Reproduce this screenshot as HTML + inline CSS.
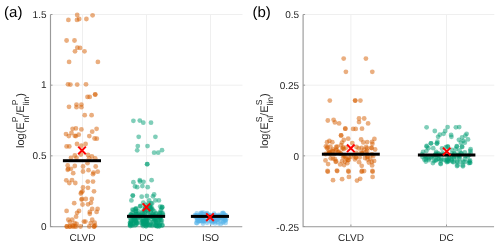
<!DOCTYPE html>
<html><head><meta charset="utf-8"><style>
html,body{margin:0;padding:0;background:#fff;width:500px;height:246px;overflow:hidden}
svg{display:block;font-family:"Liberation Sans",sans-serif;will-change:transform;text-rendering:geometricPrecision}
</style></head><body>
<svg width="500" height="246" viewBox="0 0 500 246" font-family="Liberation Sans, sans-serif">
<rect width="500" height="246" fill="#fff"/>
<line x1="82.50" y1="14.5" x2="82.50" y2="226.5" stroke="#efefef" stroke-width="1"/>
<line x1="146.50" y1="14.5" x2="146.50" y2="226.5" stroke="#efefef" stroke-width="1"/>
<line x1="210.50" y1="14.5" x2="210.50" y2="226.5" stroke="#efefef" stroke-width="1"/>
<line x1="50.5" y1="226.50" x2="242.5" y2="226.50" stroke="#efefef" stroke-width="1"/>
<line x1="50.5" y1="155.83" x2="242.5" y2="155.83" stroke="#efefef" stroke-width="1"/>
<line x1="50.5" y1="85.17" x2="242.5" y2="85.17" stroke="#efefef" stroke-width="1"/>
<line x1="50.5" y1="14.50" x2="242.5" y2="14.50" stroke="#efefef" stroke-width="1"/>
<line x1="350.90" y1="14.5" x2="350.90" y2="226.5" stroke="#efefef" stroke-width="1"/>
<line x1="446.50" y1="14.5" x2="446.50" y2="226.5" stroke="#efefef" stroke-width="1"/>
<line x1="303.1" y1="226.50" x2="494.3" y2="226.50" stroke="#efefef" stroke-width="1"/>
<line x1="303.1" y1="155.83" x2="494.3" y2="155.83" stroke="#efefef" stroke-width="1"/>
<line x1="303.1" y1="85.17" x2="494.3" y2="85.17" stroke="#efefef" stroke-width="1"/>
<line x1="303.1" y1="14.50" x2="494.3" y2="14.50" stroke="#efefef" stroke-width="1"/>
<path d="M50.5 14.5V226.7H242.2" fill="none" stroke="#9a9a9a" stroke-width="1.15"/>
<line x1="50.5" y1="226.50" x2="52.5" y2="226.50" stroke="#9a9a9a" stroke-width="1"/>
<text x="46.5" y="230" text-anchor="end" font-size="10" fill="#262626">0</text>
<line x1="50.5" y1="155.83" x2="52.5" y2="155.83" stroke="#9a9a9a" stroke-width="1"/>
<text x="46.5" y="159" text-anchor="end" font-size="10" fill="#262626">0.5</text>
<line x1="50.5" y1="85.17" x2="52.5" y2="85.17" stroke="#9a9a9a" stroke-width="1"/>
<text x="46.5" y="88" text-anchor="end" font-size="10" fill="#262626">1</text>
<line x1="50.5" y1="14.50" x2="52.5" y2="14.50" stroke="#9a9a9a" stroke-width="1"/>
<text x="46.5" y="18" text-anchor="end" font-size="10" fill="#262626">1.5</text>
<line x1="82.50" y1="226.5" x2="82.50" y2="224.5" stroke="#9a9a9a" stroke-width="1"/>
<text x="82.50" y="240.7" text-anchor="middle" font-size="10" fill="#262626">CLVD</text>
<line x1="146.50" y1="226.5" x2="146.50" y2="224.5" stroke="#9a9a9a" stroke-width="1"/>
<text x="146.50" y="240.7" text-anchor="middle" font-size="10" fill="#262626">DC</text>
<line x1="210.50" y1="226.5" x2="210.50" y2="224.5" stroke="#9a9a9a" stroke-width="1"/>
<text x="210.50" y="240.7" text-anchor="middle" font-size="10" fill="#262626">ISO</text>
<path d="M303.1 14.5V226.7H494.0" fill="none" stroke="#9a9a9a" stroke-width="1.15"/>
<line x1="303.1" y1="226.50" x2="305.1" y2="226.50" stroke="#9a9a9a" stroke-width="1"/>
<text x="299.1" y="231" text-anchor="end" font-size="10" fill="#262626">-0.25</text>
<line x1="303.1" y1="155.83" x2="305.1" y2="155.83" stroke="#9a9a9a" stroke-width="1"/>
<text x="299.1" y="160" text-anchor="end" font-size="10" fill="#262626">0</text>
<line x1="303.1" y1="85.17" x2="305.1" y2="85.17" stroke="#9a9a9a" stroke-width="1"/>
<text x="299.1" y="89" text-anchor="end" font-size="10" fill="#262626">0.25</text>
<line x1="303.1" y1="14.50" x2="305.1" y2="14.50" stroke="#9a9a9a" stroke-width="1"/>
<text x="299.1" y="18" text-anchor="end" font-size="10" fill="#262626">0.5</text>
<line x1="350.90" y1="226.5" x2="350.90" y2="224.5" stroke="#9a9a9a" stroke-width="1"/>
<text x="350.90" y="240.7" text-anchor="middle" font-size="10" fill="#262626">CLVD</text>
<line x1="446.50" y1="226.5" x2="446.50" y2="224.5" stroke="#9a9a9a" stroke-width="1"/>
<text x="446.50" y="240.7" text-anchor="middle" font-size="10" fill="#262626">DC</text>
<g fill="rgb(213,94,0)" fill-opacity="0.5">
<circle cx="68.4" cy="19.9" r="2.4"/>
<circle cx="77.2" cy="15.0" r="2.4"/>
<circle cx="77.0" cy="19.9" r="2.4"/>
<circle cx="79.2" cy="19.0" r="2.4"/>
<circle cx="86.4" cy="19.0" r="2.4"/>
<circle cx="92.6" cy="15.3" r="2.4"/>
<circle cx="66.6" cy="40.5" r="2.4"/>
<circle cx="74.5" cy="40.5" r="2.4"/>
<circle cx="77.3" cy="47.7" r="2.4"/>
<circle cx="80.1" cy="47.9" r="2.4"/>
<circle cx="75.0" cy="51.3" r="2.4"/>
<circle cx="84.5" cy="51.3" r="2.4"/>
<circle cx="69.1" cy="61.9" r="2.4"/>
<circle cx="97.9" cy="61.9" r="2.4"/>
<circle cx="68.0" cy="84.3" r="2.4"/>
<circle cx="70.4" cy="84.6" r="2.4"/>
<circle cx="77.2" cy="84.6" r="2.4"/>
<circle cx="86.0" cy="84.3" r="2.4"/>
<circle cx="87.5" cy="96.9" r="2.4"/>
<circle cx="89.7" cy="96.9" r="2.4"/>
<circle cx="95.2" cy="94.7" r="2.4"/>
<circle cx="95.2" cy="94.3" r="2.4"/>
<circle cx="69.0" cy="106.8" r="2.4"/>
<circle cx="76.5" cy="104.6" r="2.4"/>
<circle cx="76.5" cy="107.2" r="2.4"/>
<circle cx="81.4" cy="104.6" r="2.4"/>
<circle cx="81.4" cy="107.2" r="2.4"/>
<circle cx="84.7" cy="115.2" r="2.4"/>
<circle cx="91.6" cy="115.2" r="2.4"/>
<circle cx="72.6" cy="128.8" r="2.4"/>
<circle cx="75.9" cy="128.4" r="2.4"/>
<circle cx="81.4" cy="129.4" r="2.4"/>
<circle cx="66.0" cy="134.1" r="2.4"/>
<circle cx="68.8" cy="136.1" r="2.4"/>
<circle cx="71.5" cy="133.0" r="2.4"/>
<circle cx="74.8" cy="135.8" r="2.4"/>
<circle cx="75.9" cy="136.1" r="2.4"/>
<circle cx="78.7" cy="134.7" r="2.4"/>
<circle cx="92.2" cy="131.7" r="2.4"/>
<circle cx="96.6" cy="128.8" r="2.4"/>
<circle cx="89.3" cy="136.1" r="2.4"/>
<circle cx="94.6" cy="138.5" r="2.4"/>
<circle cx="96.8" cy="138.7" r="2.4"/>
<circle cx="66.6" cy="146.4" r="2.4"/>
<circle cx="69.3" cy="146.4" r="2.4"/>
<circle cx="77.0" cy="144.0" r="2.4"/>
<circle cx="81.4" cy="145.7" r="2.4"/>
<circle cx="85.6" cy="144.0" r="2.4"/>
<circle cx="80.9" cy="154.5" r="2.4"/>
<circle cx="74.8" cy="155.5" r="2.4"/>
<circle cx="71.0" cy="157.8" r="2.4"/>
<circle cx="76.5" cy="157.8" r="2.4"/>
<circle cx="88.0" cy="155.0" r="2.4"/>
<circle cx="91.9" cy="156.3" r="2.4"/>
<circle cx="95.2" cy="158.3" r="2.4"/>
<circle cx="89.1" cy="158.3" r="2.4"/>
<circle cx="67.7" cy="165.5" r="2.4"/>
<circle cx="74.8" cy="166.0" r="2.4"/>
<circle cx="68.2" cy="168.8" r="2.4"/>
<circle cx="83.0" cy="166.5" r="2.4"/>
<circle cx="87.5" cy="163.2" r="2.4"/>
<circle cx="95.7" cy="166.5" r="2.4"/>
<circle cx="67.7" cy="169.8" r="2.4"/>
<circle cx="71.0" cy="168.8" r="2.4"/>
<circle cx="73.2" cy="173.2" r="2.4"/>
<circle cx="83.0" cy="171.5" r="2.4"/>
<circle cx="88.5" cy="170.2" r="2.4"/>
<circle cx="93.0" cy="174.2" r="2.4"/>
<circle cx="93.5" cy="172.6" r="2.4"/>
<circle cx="97.7" cy="171.7" r="2.4"/>
<circle cx="66.3" cy="180.3" r="2.4"/>
<circle cx="69.3" cy="183.0" r="2.4"/>
<circle cx="72.0" cy="180.1" r="2.4"/>
<circle cx="75.3" cy="183.0" r="2.4"/>
<circle cx="87.8" cy="181.6" r="2.4"/>
<circle cx="93.0" cy="181.6" r="2.4"/>
<circle cx="83.0" cy="187.4" r="2.4"/>
<circle cx="88.0" cy="187.8" r="2.4"/>
<circle cx="94.0" cy="191.3" r="2.4"/>
<circle cx="81.4" cy="192.4" r="2.4"/>
<circle cx="82.5" cy="191.3" r="2.4"/>
<circle cx="80.8" cy="193.5" r="2.4"/>
<circle cx="82.0" cy="199.0" r="2.4"/>
<circle cx="81.5" cy="199.6" r="2.4"/>
<circle cx="85.8" cy="199.0" r="2.4"/>
<circle cx="91.8" cy="199.0" r="2.4"/>
<circle cx="74.2" cy="203.2" r="2.4"/>
<circle cx="82.5" cy="204.5" r="2.4"/>
<circle cx="88.0" cy="204.3" r="2.4"/>
<circle cx="91.0" cy="202.8" r="2.4"/>
<circle cx="66.6" cy="210.9" r="2.4"/>
<circle cx="79.0" cy="210.9" r="2.4"/>
<circle cx="77.1" cy="212.8" r="2.4"/>
<circle cx="76.1" cy="216.7" r="2.4"/>
<circle cx="68.3" cy="219.7" r="2.4"/>
<circle cx="72.2" cy="219.7" r="2.4"/>
<circle cx="69.8" cy="222.1" r="2.4"/>
<circle cx="74.6" cy="223.1" r="2.4"/>
<circle cx="76.6" cy="224.0" r="2.4"/>
<circle cx="66.8" cy="226.5" r="2.4"/>
<circle cx="69.8" cy="226.5" r="2.4"/>
<circle cx="72.7" cy="226.5" r="2.4"/>
<circle cx="76.1" cy="226.5" r="2.4"/>
<circle cx="80.5" cy="226.5" r="2.4"/>
<circle cx="83.9" cy="221.6" r="2.4"/>
<circle cx="66.8" cy="226.5" r="2.4"/>
<circle cx="69.8" cy="226.5" r="2.4"/>
<circle cx="72.7" cy="225.5" r="2.4"/>
<circle cx="74.5" cy="226.5" r="2.4"/>
<circle cx="89.8" cy="211.9" r="2.4"/>
<circle cx="92.2" cy="208.9" r="2.4"/>
<circle cx="89.8" cy="213.8" r="2.4"/>
<circle cx="97.6" cy="208.9" r="2.4"/>
<circle cx="96.6" cy="211.9" r="2.4"/>
<circle cx="85.4" cy="221.6" r="2.4"/>
<circle cx="92.2" cy="219.7" r="2.4"/>
<circle cx="90.7" cy="223.1" r="2.4"/>
<circle cx="94.6" cy="222.6" r="2.4"/>
<circle cx="89.3" cy="226.5" r="2.4"/>
<circle cx="94.1" cy="226.5" r="2.4"/>
<circle cx="94.1" cy="226.5" r="2.4"/>
<circle cx="95.0" cy="225.5" r="2.4"/>
</g>
<g fill="rgb(0,158,115)" fill-opacity="0.5">
<circle cx="133.4" cy="120.8" r="2.4"/>
<circle cx="139.8" cy="120.6" r="2.4"/>
<circle cx="143.3" cy="122.7" r="2.4"/>
<circle cx="151.0" cy="122.7" r="2.4"/>
<circle cx="138.7" cy="136.8" r="2.4"/>
<circle cx="155.4" cy="136.8" r="2.4"/>
<circle cx="137.8" cy="146.1" r="2.4"/>
<circle cx="137.2" cy="150.3" r="2.4"/>
<circle cx="147.5" cy="146.1" r="2.4"/>
<circle cx="154.1" cy="152.7" r="2.4"/>
<circle cx="158.2" cy="152.7" r="2.4"/>
<circle cx="162.0" cy="150.2" r="2.4"/>
<circle cx="147.2" cy="164.2" r="2.4"/>
<circle cx="147.2" cy="164.2" r="2.4"/>
<circle cx="133.4" cy="182.2" r="2.4"/>
<circle cx="139.8" cy="180.2" r="2.4"/>
<circle cx="143.5" cy="181.8" r="2.4"/>
<circle cx="151.6" cy="180.2" r="2.4"/>
<circle cx="135.0" cy="186.4" r="2.4"/>
<circle cx="137.2" cy="187.2" r="2.4"/>
<circle cx="140.0" cy="181.5" r="2.4"/>
<circle cx="142.4" cy="186.1" r="2.4"/>
<circle cx="147.7" cy="187.2" r="2.4"/>
<circle cx="132.8" cy="195.6" r="2.4"/>
<circle cx="132.8" cy="195.6" r="2.4"/>
<circle cx="131.4" cy="200.4" r="2.4"/>
<circle cx="141.7" cy="196.7" r="2.4"/>
<circle cx="146.9" cy="196.0" r="2.4"/>
<circle cx="153.0" cy="196.3" r="2.4"/>
<circle cx="154.1" cy="194.5" r="2.4"/>
<circle cx="149.1" cy="200.4" r="2.4"/>
<circle cx="155.4" cy="200.4" r="2.4"/>
<circle cx="158.9" cy="200.4" r="2.4"/>
<circle cx="143.3" cy="202.6" r="2.4"/>
<circle cx="152.1" cy="203.5" r="2.4"/>
<circle cx="140.0" cy="206.4" r="2.4"/>
<circle cx="162.0" cy="207.0" r="2.4"/>
<circle cx="133.4" cy="210.1" r="2.4"/>
<circle cx="136.2" cy="208.7" r="2.4"/>
<circle cx="138.3" cy="211.4" r="2.4"/>
<circle cx="145.0" cy="211.4" r="2.4"/>
<circle cx="149.9" cy="209.2" r="2.4"/>
<circle cx="154.3" cy="211.4" r="2.4"/>
<circle cx="160.9" cy="210.3" r="2.4"/>
<circle cx="144.7" cy="209.3" r="2.4"/>
<circle cx="145.1" cy="208.6" r="2.4"/>
<circle cx="135.7" cy="208.7" r="2.4"/>
<circle cx="132.5" cy="212.5" r="2.4"/>
<circle cx="130.9" cy="214.8" r="2.4"/>
<circle cx="151.4" cy="210.0" r="2.4"/>
<circle cx="145.0" cy="207.7" r="2.4"/>
<circle cx="146.9" cy="210.3" r="2.4"/>
<circle cx="151.7" cy="207.9" r="2.4"/>
<circle cx="162.9" cy="214.9" r="2.4"/>
<circle cx="142.9" cy="213.0" r="2.4"/>
<circle cx="161.6" cy="213.0" r="2.4"/>
<circle cx="136.5" cy="213.8" r="2.4"/>
<circle cx="162.3" cy="207.2" r="2.4"/>
<circle cx="150.6" cy="212.1" r="2.4"/>
<circle cx="135.5" cy="209.3" r="2.4"/>
<circle cx="135.9" cy="211.5" r="2.4"/>
<circle cx="151.1" cy="203.5" r="2.4"/>
<circle cx="140.5" cy="205.9" r="2.4"/>
<circle cx="132.5" cy="209.6" r="2.4"/>
<circle cx="149.6" cy="206.8" r="2.4"/>
<circle cx="161.6" cy="208.3" r="2.4"/>
<circle cx="159.9" cy="212.6" r="2.4"/>
<circle cx="135.9" cy="211.6" r="2.4"/>
<circle cx="136.1" cy="214.4" r="2.4"/>
<circle cx="149.7" cy="207.5" r="2.4"/>
<circle cx="130.8" cy="214.5" r="2.4"/>
<circle cx="149.5" cy="205.8" r="2.4"/>
<circle cx="148.2" cy="213.1" r="2.4"/>
<circle cx="138.9" cy="213.9" r="2.4"/>
<circle cx="148.7" cy="203.7" r="2.4"/>
<circle cx="159.3" cy="214.7" r="2.4"/>
<circle cx="152.7" cy="209.6" r="2.4"/>
<circle cx="153.0" cy="214.5" r="2.4"/>
<circle cx="150.8" cy="208.3" r="2.4"/>
<circle cx="140.2" cy="215.0" r="2.4"/>
<circle cx="147.8" cy="211.6" r="2.4"/>
<circle cx="160.2" cy="206.6" r="2.4"/>
<circle cx="159.7" cy="213.3" r="2.4"/>
<circle cx="156.0" cy="213.2" r="2.4"/>
<circle cx="150.4" cy="207.0" r="2.4"/>
<circle cx="162.8" cy="213.4" r="2.4"/>
<circle cx="142.5" cy="211.6" r="2.4"/>
<circle cx="144.3" cy="212.9" r="2.4"/>
<circle cx="145.6" cy="205.0" r="2.4"/>
<circle cx="145.9" cy="221.7" r="2.4"/>
<circle cx="159.9" cy="217.2" r="2.4"/>
<circle cx="129.9" cy="217.8" r="2.4"/>
<circle cx="151.9" cy="216.5" r="2.4"/>
<circle cx="135.1" cy="225.3" r="2.4"/>
<circle cx="151.3" cy="219.5" r="2.4"/>
<circle cx="158.9" cy="218.1" r="2.4"/>
<circle cx="151.5" cy="216.5" r="2.4"/>
<circle cx="143.7" cy="224.1" r="2.4"/>
<circle cx="159.7" cy="225.0" r="2.4"/>
<circle cx="142.2" cy="221.3" r="2.4"/>
<circle cx="139.9" cy="215.7" r="2.4"/>
<circle cx="145.9" cy="224.5" r="2.4"/>
<circle cx="157.5" cy="222.9" r="2.4"/>
<circle cx="160.9" cy="217.5" r="2.4"/>
<circle cx="135.1" cy="219.6" r="2.4"/>
<circle cx="138.6" cy="216.7" r="2.4"/>
<circle cx="143.2" cy="221.8" r="2.4"/>
<circle cx="145.8" cy="217.9" r="2.4"/>
<circle cx="157.2" cy="226.3" r="2.4"/>
<circle cx="144.4" cy="214.9" r="2.4"/>
<circle cx="130.5" cy="224.9" r="2.4"/>
<circle cx="130.9" cy="222.9" r="2.4"/>
<circle cx="148.3" cy="217.9" r="2.4"/>
<circle cx="155.6" cy="214.2" r="2.4"/>
<circle cx="134.0" cy="219.7" r="2.4"/>
<circle cx="130.3" cy="224.4" r="2.4"/>
<circle cx="137.3" cy="215.8" r="2.4"/>
<circle cx="131.0" cy="221.9" r="2.4"/>
<circle cx="144.2" cy="221.9" r="2.4"/>
<circle cx="151.1" cy="224.1" r="2.4"/>
<circle cx="161.1" cy="222.6" r="2.4"/>
<circle cx="136.1" cy="219.9" r="2.4"/>
<circle cx="135.4" cy="214.1" r="2.4"/>
<circle cx="145.1" cy="222.9" r="2.4"/>
<circle cx="135.4" cy="217.4" r="2.4"/>
<circle cx="140.9" cy="222.7" r="2.4"/>
<circle cx="146.7" cy="221.7" r="2.4"/>
<circle cx="154.5" cy="218.9" r="2.4"/>
<circle cx="155.6" cy="225.3" r="2.4"/>
<circle cx="132.4" cy="225.7" r="2.4"/>
<circle cx="153.3" cy="215.6" r="2.4"/>
<circle cx="144.5" cy="221.8" r="2.4"/>
<circle cx="159.5" cy="218.7" r="2.4"/>
<circle cx="148.3" cy="225.0" r="2.4"/>
<circle cx="155.8" cy="225.8" r="2.4"/>
<circle cx="144.8" cy="222.1" r="2.4"/>
<circle cx="136.3" cy="223.0" r="2.4"/>
<circle cx="156.5" cy="222.0" r="2.4"/>
<circle cx="153.2" cy="216.7" r="2.4"/>
<circle cx="159.2" cy="226.3" r="2.4"/>
<circle cx="161.8" cy="220.7" r="2.4"/>
<circle cx="155.6" cy="218.0" r="2.4"/>
<circle cx="159.5" cy="224.7" r="2.4"/>
<circle cx="141.0" cy="215.0" r="2.4"/>
<circle cx="144.0" cy="220.9" r="2.4"/>
<circle cx="154.9" cy="220.1" r="2.4"/>
<circle cx="130.4" cy="224.1" r="2.4"/>
<circle cx="131.6" cy="224.0" r="2.4"/>
<circle cx="135.2" cy="218.2" r="2.4"/>
<circle cx="155.5" cy="215.8" r="2.4"/>
<circle cx="134.4" cy="220.5" r="2.4"/>
<circle cx="153.4" cy="224.5" r="2.4"/>
<circle cx="152.2" cy="225.8" r="2.4"/>
<circle cx="145.8" cy="225.9" r="2.4"/>
<circle cx="132.3" cy="216.8" r="2.4"/>
<circle cx="146.9" cy="217.6" r="2.4"/>
<circle cx="153.6" cy="222.0" r="2.4"/>
<circle cx="146.8" cy="224.5" r="2.4"/>
<circle cx="148.0" cy="217.9" r="2.4"/>
<circle cx="142.1" cy="224.6" r="2.4"/>
<circle cx="159.2" cy="216.6" r="2.4"/>
<circle cx="157.6" cy="226.1" r="2.4"/>
<circle cx="146.8" cy="221.2" r="2.4"/>
<circle cx="136.1" cy="220.7" r="2.4"/>
<circle cx="146.1" cy="221.6" r="2.4"/>
<circle cx="130.4" cy="226.1" r="2.4"/>
<circle cx="146.5" cy="219.0" r="2.4"/>
<circle cx="155.9" cy="221.0" r="2.4"/>
<circle cx="145.7" cy="222.6" r="2.4"/>
<circle cx="131.7" cy="220.7" r="2.4"/>
<circle cx="143.2" cy="226.0" r="2.4"/>
<circle cx="160.0" cy="217.4" r="2.4"/>
<circle cx="145.1" cy="215.6" r="2.4"/>
<circle cx="143.8" cy="224.2" r="2.4"/>
<circle cx="159.2" cy="220.0" r="2.4"/>
<circle cx="140.0" cy="216.4" r="2.4"/>
<circle cx="149.9" cy="225.6" r="2.4"/>
<circle cx="133.8" cy="223.7" r="2.4"/>
<circle cx="130.3" cy="216.4" r="2.4"/>
<circle cx="137.0" cy="222.6" r="2.4"/>
<circle cx="140.1" cy="218.4" r="2.4"/>
<circle cx="150.0" cy="215.3" r="2.4"/>
<circle cx="153.6" cy="215.5" r="2.4"/>
<circle cx="146.3" cy="217.1" r="2.4"/>
<circle cx="136.0" cy="220.6" r="2.4"/>
<circle cx="143.9" cy="218.7" r="2.4"/>
<circle cx="143.1" cy="220.6" r="2.4"/>
<circle cx="134.8" cy="216.6" r="2.4"/>
<circle cx="150.3" cy="222.0" r="2.4"/>
<circle cx="147.0" cy="224.6" r="2.4"/>
<circle cx="149.7" cy="224.7" r="2.4"/>
<circle cx="137.2" cy="223.3" r="2.4"/>
<circle cx="156.2" cy="225.3" r="2.4"/>
<circle cx="139.9" cy="217.9" r="2.4"/>
<circle cx="160.0" cy="216.7" r="2.4"/>
<circle cx="162.4" cy="225.1" r="2.4"/>
<circle cx="133.9" cy="217.0" r="2.4"/>
<circle cx="153.5" cy="217.2" r="2.4"/>
<circle cx="132.7" cy="224.4" r="2.4"/>
<circle cx="143.4" cy="223.9" r="2.4"/>
<circle cx="133.7" cy="219.0" r="2.4"/>
<circle cx="152.1" cy="214.2" r="2.4"/>
<circle cx="136.1" cy="222.5" r="2.4"/>
<circle cx="159.6" cy="226.1" r="2.4"/>
<circle cx="133.3" cy="220.3" r="2.4"/>
<circle cx="154.5" cy="220.3" r="2.4"/>
<circle cx="152.1" cy="216.4" r="2.4"/>
<circle cx="131.8" cy="215.3" r="2.4"/>
<circle cx="130.7" cy="220.9" r="2.4"/>
<circle cx="146.5" cy="221.1" r="2.4"/>
<circle cx="134.3" cy="216.3" r="2.4"/>
<circle cx="136.2" cy="224.5" r="2.4"/>
<circle cx="162.2" cy="225.6" r="2.4"/>
<circle cx="132.6" cy="214.8" r="2.4"/>
<circle cx="160.9" cy="219.8" r="2.4"/>
<circle cx="154.7" cy="218.1" r="2.4"/>
<circle cx="144.9" cy="220.4" r="2.4"/>
<circle cx="143.7" cy="221.5" r="2.4"/>
<circle cx="129.9" cy="222.8" r="2.4"/>
<circle cx="157.4" cy="216.3" r="2.4"/>
<circle cx="144.5" cy="223.2" r="2.4"/>
<circle cx="142.9" cy="216.4" r="2.4"/>
<circle cx="134.9" cy="220.4" r="2.4"/>
<circle cx="130.0" cy="225.2" r="2.4"/>
<circle cx="156.0" cy="222.8" r="2.4"/>
<circle cx="157.9" cy="221.9" r="2.4"/>
<circle cx="142.8" cy="221.5" r="2.4"/>
<circle cx="146.1" cy="226.3" r="2.4"/>
<circle cx="156.1" cy="217.2" r="2.4"/>
</g>
<g fill="rgb(86,180,233)" fill-opacity="0.5">
<circle cx="220.2" cy="217.0" r="2.4"/>
<circle cx="218.6" cy="217.0" r="2.4"/>
<circle cx="196.7" cy="216.3" r="2.4"/>
<circle cx="194.8" cy="216.4" r="2.4"/>
<circle cx="214.2" cy="215.1" r="2.4"/>
<circle cx="215.5" cy="216.2" r="2.4"/>
<circle cx="212.4" cy="218.4" r="2.4"/>
<circle cx="226.0" cy="219.6" r="2.4"/>
<circle cx="218.5" cy="223.3" r="2.4"/>
<circle cx="213.9" cy="220.6" r="2.4"/>
<circle cx="207.1" cy="213.1" r="2.4"/>
<circle cx="206.3" cy="213.6" r="2.4"/>
<circle cx="223.0" cy="218.6" r="2.4"/>
<circle cx="225.0" cy="218.7" r="2.4"/>
<circle cx="214.6" cy="221.4" r="2.4"/>
<circle cx="213.3" cy="220.9" r="2.4"/>
<circle cx="223.8" cy="214.3" r="2.4"/>
<circle cx="199.8" cy="218.0" r="2.4"/>
<circle cx="196.3" cy="222.9" r="2.4"/>
<circle cx="211.1" cy="219.1" r="2.4"/>
<circle cx="203.5" cy="219.7" r="2.4"/>
<circle cx="203.4" cy="220.4" r="2.4"/>
<circle cx="194.9" cy="215.2" r="2.4"/>
<circle cx="199.4" cy="220.8" r="2.4"/>
<circle cx="222.8" cy="220.7" r="2.4"/>
<circle cx="225.6" cy="222.9" r="2.4"/>
<circle cx="223.0" cy="217.2" r="2.4"/>
<circle cx="225.2" cy="215.2" r="2.4"/>
<circle cx="198.1" cy="219.4" r="2.4"/>
<circle cx="200.9" cy="213.1" r="2.4"/>
<circle cx="198.4" cy="217.4" r="2.4"/>
<circle cx="208.8" cy="215.4" r="2.4"/>
<circle cx="207.7" cy="221.1" r="2.4"/>
<circle cx="202.0" cy="213.8" r="2.4"/>
<circle cx="219.2" cy="219.4" r="2.4"/>
<circle cx="203.1" cy="220.0" r="2.4"/>
<circle cx="213.1" cy="219.5" r="2.4"/>
<circle cx="200.5" cy="215.2" r="2.4"/>
<circle cx="223.3" cy="222.2" r="2.4"/>
<circle cx="196.4" cy="215.5" r="2.4"/>
<circle cx="214.1" cy="213.6" r="2.4"/>
<circle cx="196.8" cy="213.5" r="2.4"/>
<circle cx="211.8" cy="219.4" r="2.4"/>
<circle cx="209.6" cy="214.8" r="2.4"/>
<circle cx="218.0" cy="221.7" r="2.4"/>
<circle cx="198.3" cy="221.4" r="2.4"/>
<circle cx="218.7" cy="214.8" r="2.4"/>
<circle cx="202.6" cy="221.4" r="2.4"/>
<circle cx="215.1" cy="223.4" r="2.4"/>
<circle cx="211.8" cy="220.7" r="2.4"/>
<circle cx="208.0" cy="216.6" r="2.4"/>
<circle cx="222.1" cy="213.4" r="2.4"/>
<circle cx="212.3" cy="217.8" r="2.4"/>
<circle cx="203.9" cy="221.0" r="2.4"/>
<circle cx="201.2" cy="219.8" r="2.4"/>
<circle cx="204.1" cy="220.5" r="2.4"/>
<circle cx="203.4" cy="214.1" r="2.4"/>
<circle cx="217.4" cy="216.5" r="2.4"/>
<circle cx="216.8" cy="218.8" r="2.4"/>
<circle cx="219.8" cy="215.9" r="2.4"/>
<circle cx="207.1" cy="222.8" r="2.4"/>
<circle cx="202.3" cy="216.5" r="2.4"/>
<circle cx="205.9" cy="216.9" r="2.4"/>
<circle cx="200.6" cy="218.7" r="2.4"/>
<circle cx="211.5" cy="221.7" r="2.4"/>
<circle cx="200.1" cy="220.8" r="2.4"/>
<circle cx="203.4" cy="212.7" r="2.4"/>
<circle cx="211.6" cy="218.7" r="2.4"/>
<circle cx="215.0" cy="221.3" r="2.4"/>
<circle cx="211.7" cy="221.2" r="2.4"/>
<circle cx="197.1" cy="220.6" r="2.4"/>
<circle cx="197.2" cy="219.5" r="2.4"/>
<circle cx="218.0" cy="219.6" r="2.4"/>
<circle cx="201.4" cy="220.9" r="2.4"/>
<circle cx="218.6" cy="216.8" r="2.4"/>
<circle cx="225.0" cy="219.9" r="2.4"/>
<circle cx="211.4" cy="220.4" r="2.4"/>
<circle cx="223.3" cy="217.0" r="2.4"/>
<circle cx="214.7" cy="218.3" r="2.4"/>
<circle cx="219.8" cy="217.1" r="2.4"/>
<circle cx="199.1" cy="220.7" r="2.4"/>
<circle cx="206.3" cy="214.3" r="2.4"/>
<circle cx="207.9" cy="215.7" r="2.4"/>
<circle cx="196.4" cy="215.9" r="2.4"/>
<circle cx="214.9" cy="221.0" r="2.4"/>
<circle cx="196.5" cy="217.5" r="2.4"/>
<circle cx="223.1" cy="212.9" r="2.4"/>
<circle cx="200.3" cy="214.9" r="2.4"/>
<circle cx="217.1" cy="219.0" r="2.4"/>
<circle cx="200.3" cy="215.6" r="2.4"/>
<circle cx="218.4" cy="215.9" r="2.4"/>
<circle cx="220.2" cy="217.8" r="2.4"/>
<circle cx="222.5" cy="222.6" r="2.4"/>
<circle cx="211.7" cy="223.0" r="2.4"/>
<circle cx="201.5" cy="213.0" r="2.4"/>
<circle cx="219.7" cy="216.7" r="2.4"/>
<circle cx="210.7" cy="215.5" r="2.4"/>
<circle cx="215.2" cy="215.1" r="2.4"/>
<circle cx="209.4" cy="216.6" r="2.4"/>
<circle cx="217.0" cy="219.2" r="2.4"/>
<circle cx="199.4" cy="216.0" r="2.4"/>
<circle cx="221.9" cy="218.2" r="2.4"/>
<circle cx="225.8" cy="215.4" r="2.4"/>
<circle cx="199.2" cy="221.0" r="2.4"/>
<circle cx="197.1" cy="215.5" r="2.4"/>
<circle cx="197.6" cy="217.8" r="2.4"/>
<circle cx="224.6" cy="219.0" r="2.4"/>
<circle cx="204.1" cy="221.2" r="2.4"/>
<circle cx="223.4" cy="213.5" r="2.4"/>
<circle cx="201.1" cy="218.5" r="2.4"/>
<circle cx="220.7" cy="223.9" r="2.4"/>
<circle cx="225.6" cy="220.6" r="2.4"/>
<circle cx="197.0" cy="223.0" r="2.4"/>
<circle cx="203.0" cy="223.5" r="2.4"/>
</g>
<g fill="rgb(213,94,0)" fill-opacity="0.5">
<circle cx="343.7" cy="58.6" r="2.4"/>
<circle cx="365.9" cy="58.6" r="2.4"/>
<circle cx="345.9" cy="71.8" r="2.4"/>
<circle cx="372.3" cy="71.8" r="2.4"/>
<circle cx="329.8" cy="100.6" r="2.4"/>
<circle cx="355.2" cy="100.6" r="2.4"/>
<circle cx="355.2" cy="100.6" r="2.4"/>
<circle cx="360.4" cy="100.6" r="2.4"/>
<circle cx="327.8" cy="120.5" r="2.4"/>
<circle cx="333.6" cy="119.8" r="2.4"/>
<circle cx="334.9" cy="122.4" r="2.4"/>
<circle cx="339.1" cy="123.4" r="2.4"/>
<circle cx="345.3" cy="128.7" r="2.4"/>
<circle cx="345.3" cy="128.7" r="2.4"/>
<circle cx="353.1" cy="128.9" r="2.4"/>
<circle cx="355.7" cy="128.9" r="2.4"/>
<circle cx="362.0" cy="128.7" r="2.4"/>
<circle cx="359.0" cy="118.5" r="2.4"/>
<circle cx="364.2" cy="118.5" r="2.4"/>
<circle cx="359.0" cy="122.1" r="2.4"/>
<circle cx="368.1" cy="123.4" r="2.4"/>
<circle cx="341.1" cy="135.4" r="2.4"/>
<circle cx="341.1" cy="135.4" r="2.4"/>
<circle cx="343.8" cy="140.0" r="2.4"/>
<circle cx="348.2" cy="138.7" r="2.4"/>
<circle cx="327.1" cy="142.2" r="2.4"/>
<circle cx="329.4" cy="140.9" r="2.4"/>
<circle cx="332.3" cy="142.2" r="2.4"/>
<circle cx="342.0" cy="142.6" r="2.4"/>
<circle cx="352.3" cy="143.1" r="2.4"/>
<circle cx="361.1" cy="139.5" r="2.4"/>
<circle cx="363.3" cy="142.4" r="2.4"/>
<circle cx="367.2" cy="142.1" r="2.4"/>
<circle cx="372.1" cy="141.8" r="2.4"/>
<circle cx="372.4" cy="143.8" r="2.4"/>
<circle cx="374.4" cy="138.9" r="2.4"/>
<circle cx="356.5" cy="147.0" r="2.4"/>
<circle cx="361.7" cy="148.0" r="2.4"/>
<circle cx="366.2" cy="147.0" r="2.4"/>
<circle cx="371.8" cy="148.0" r="2.4"/>
<circle cx="327.1" cy="148.3" r="2.4"/>
<circle cx="336.2" cy="147.0" r="2.4"/>
<circle cx="336.2" cy="149.6" r="2.4"/>
<circle cx="346.0" cy="147.7" r="2.4"/>
<circle cx="341.1" cy="145.1" r="2.4"/>
<circle cx="330.7" cy="158.3" r="2.4"/>
<circle cx="335.0" cy="159.2" r="2.4"/>
<circle cx="328.1" cy="164.1" r="2.4"/>
<circle cx="340.2" cy="164.4" r="2.4"/>
<circle cx="342.1" cy="161.2" r="2.4"/>
<circle cx="344.1" cy="165.1" r="2.4"/>
<circle cx="347.3" cy="163.2" r="2.4"/>
<circle cx="348.0" cy="159.9" r="2.4"/>
<circle cx="359.1" cy="162.2" r="2.4"/>
<circle cx="361.7" cy="165.8" r="2.4"/>
<circle cx="368.9" cy="162.5" r="2.4"/>
<circle cx="372.1" cy="165.4" r="2.4"/>
<circle cx="374.1" cy="160.9" r="2.4"/>
<circle cx="370.2" cy="158.6" r="2.4"/>
<circle cx="365.0" cy="158.0" r="2.4"/>
<circle cx="355.9" cy="157.3" r="2.4"/>
<circle cx="327.8" cy="171.7" r="2.4"/>
<circle cx="337.2" cy="171.1" r="2.4"/>
<circle cx="348.6" cy="171.7" r="2.4"/>
<circle cx="333.0" cy="180.2" r="2.4"/>
<circle cx="342.1" cy="179.2" r="2.4"/>
<circle cx="348.9" cy="176.9" r="2.4"/>
<circle cx="357.0" cy="180.6" r="2.4"/>
<circle cx="360.2" cy="178.8" r="2.4"/>
<circle cx="361.6" cy="171.7" r="2.4"/>
<circle cx="364.1" cy="171.1" r="2.4"/>
<circle cx="372.6" cy="171.7" r="2.4"/>
<circle cx="372.6" cy="176.9" r="2.4"/>
<circle cx="327.5" cy="171.0" r="2.4"/>
<circle cx="336.9" cy="170.6" r="2.4"/>
<circle cx="348.3" cy="171.0" r="2.4"/>
<circle cx="362.0" cy="171.0" r="2.4"/>
<circle cx="372.4" cy="171.0" r="2.4"/>
<circle cx="333.0" cy="158.7" r="2.4"/>
<circle cx="340.9" cy="153.3" r="2.4"/>
<circle cx="328.9" cy="153.2" r="2.4"/>
<circle cx="348.8" cy="157.5" r="2.4"/>
<circle cx="343.3" cy="157.2" r="2.4"/>
<circle cx="330.4" cy="154.1" r="2.4"/>
<circle cx="348.5" cy="160.2" r="2.4"/>
<circle cx="367.3" cy="156.9" r="2.4"/>
<circle cx="325.6" cy="154.0" r="2.4"/>
<circle cx="361.2" cy="152.5" r="2.4"/>
<circle cx="353.8" cy="154.8" r="2.4"/>
<circle cx="325.5" cy="160.4" r="2.4"/>
<circle cx="365.8" cy="152.2" r="2.4"/>
<circle cx="356.4" cy="153.0" r="2.4"/>
<circle cx="344.2" cy="155.7" r="2.4"/>
<circle cx="340.2" cy="153.5" r="2.4"/>
<circle cx="345.0" cy="157.0" r="2.4"/>
<circle cx="338.1" cy="152.1" r="2.4"/>
<circle cx="362.3" cy="153.5" r="2.4"/>
<circle cx="373.2" cy="155.9" r="2.4"/>
<circle cx="361.9" cy="153.5" r="2.4"/>
<circle cx="367.2" cy="151.0" r="2.4"/>
<circle cx="332.2" cy="151.0" r="2.4"/>
<circle cx="359.6" cy="157.4" r="2.4"/>
<circle cx="334.2" cy="154.2" r="2.4"/>
<circle cx="367.7" cy="156.2" r="2.4"/>
<circle cx="329.6" cy="152.4" r="2.4"/>
<circle cx="333.0" cy="151.3" r="2.4"/>
<circle cx="372.0" cy="154.5" r="2.4"/>
<circle cx="351.1" cy="156.8" r="2.4"/>
<circle cx="364.1" cy="149.7" r="2.4"/>
<circle cx="375.1" cy="149.5" r="2.4"/>
<circle cx="358.7" cy="148.3" r="2.4"/>
<circle cx="325.9" cy="146.3" r="2.4"/>
<circle cx="342.5" cy="148.6" r="2.4"/>
<circle cx="330.4" cy="146.6" r="2.4"/>
<circle cx="367.1" cy="148.3" r="2.4"/>
<circle cx="333.1" cy="149.4" r="2.4"/>
<circle cx="371.1" cy="147.8" r="2.4"/>
<circle cx="343.0" cy="147.5" r="2.4"/>
<circle cx="328.6" cy="150.7" r="2.4"/>
<circle cx="343.8" cy="149.1" r="2.4"/>
<circle cx="338.9" cy="151.7" r="2.4"/>
<circle cx="329.5" cy="152.6" r="2.4"/>
<circle cx="337.3" cy="146.6" r="2.4"/>
<circle cx="327.5" cy="147.0" r="2.4"/>
<circle cx="336.4" cy="150.6" r="2.4"/>
<circle cx="345.1" cy="161.6" r="2.4"/>
<circle cx="346.6" cy="158.8" r="2.4"/>
<circle cx="335.7" cy="161.8" r="2.4"/>
<circle cx="336.2" cy="161.4" r="2.4"/>
<circle cx="355.0" cy="159.4" r="2.4"/>
<circle cx="355.8" cy="157.6" r="2.4"/>
<circle cx="371.8" cy="162.0" r="2.4"/>
<circle cx="367.6" cy="159.6" r="2.4"/>
</g>
<g fill="rgb(0,158,115)" fill-opacity="0.5">
<circle cx="426.6" cy="127.3" r="2.4"/>
<circle cx="434.8" cy="131.0" r="2.4"/>
<circle cx="447.6" cy="127.1" r="2.4"/>
<circle cx="455.9" cy="127.3" r="2.4"/>
<circle cx="459.2" cy="127.1" r="2.4"/>
<circle cx="445.2" cy="131.0" r="2.4"/>
<circle cx="443.6" cy="133.8" r="2.4"/>
<circle cx="439.8" cy="134.7" r="2.4"/>
<circle cx="438.1" cy="136.8" r="2.4"/>
<circle cx="451.1" cy="134.9" r="2.4"/>
<circle cx="451.4" cy="136.8" r="2.4"/>
<circle cx="466.6" cy="133.8" r="2.4"/>
<circle cx="465.4" cy="135.6" r="2.4"/>
<circle cx="462.1" cy="137.5" r="2.4"/>
<circle cx="458.9" cy="139.8" r="2.4"/>
<circle cx="463.4" cy="140.8" r="2.4"/>
<circle cx="468.0" cy="139.4" r="2.4"/>
<circle cx="437.4" cy="141.7" r="2.4"/>
<circle cx="437.1" cy="143.3" r="2.4"/>
<circle cx="430.9" cy="143.3" r="2.4"/>
<circle cx="426.6" cy="146.0" r="2.4"/>
<circle cx="447.6" cy="146.6" r="2.4"/>
<circle cx="456.9" cy="146.6" r="2.4"/>
<circle cx="461.9" cy="146.6" r="2.4"/>
<circle cx="470.6" cy="149.2" r="2.4"/>
<circle cx="426.7" cy="146.6" r="2.4"/>
<circle cx="431.0" cy="143.3" r="2.4"/>
<circle cx="428.4" cy="148.2" r="2.4"/>
<circle cx="433.2" cy="148.2" r="2.4"/>
<circle cx="436.8" cy="143.6" r="2.4"/>
<circle cx="423.1" cy="151.8" r="2.4"/>
<circle cx="426.4" cy="151.1" r="2.4"/>
<circle cx="436.2" cy="151.8" r="2.4"/>
<circle cx="442.0" cy="148.5" r="2.4"/>
<circle cx="445.9" cy="147.2" r="2.4"/>
<circle cx="460.9" cy="142.7" r="2.4"/>
<circle cx="464.8" cy="142.7" r="2.4"/>
<circle cx="447.9" cy="146.6" r="2.4"/>
<circle cx="456.7" cy="146.2" r="2.4"/>
<circle cx="462.2" cy="146.9" r="2.4"/>
<circle cx="451.8" cy="149.8" r="2.4"/>
<circle cx="455.7" cy="149.2" r="2.4"/>
<circle cx="459.6" cy="150.4" r="2.4"/>
<circle cx="470.3" cy="150.8" r="2.4"/>
<circle cx="464.8" cy="152.4" r="2.4"/>
<circle cx="422.5" cy="156.9" r="2.4"/>
<circle cx="425.8" cy="159.5" r="2.4"/>
<circle cx="429.0" cy="158.6" r="2.4"/>
<circle cx="432.9" cy="163.1" r="2.4"/>
<circle cx="435.5" cy="160.2" r="2.4"/>
<circle cx="440.7" cy="160.5" r="2.4"/>
<circle cx="440.7" cy="164.1" r="2.4"/>
<circle cx="445.9" cy="160.5" r="2.4"/>
<circle cx="425.8" cy="161.5" r="2.4"/>
<circle cx="457.0" cy="166.0" r="2.4"/>
<circle cx="462.9" cy="166.3" r="2.4"/>
<circle cx="470.0" cy="160.5" r="2.4"/>
<circle cx="447.9" cy="161.8" r="2.4"/>
<circle cx="452.5" cy="161.8" r="2.4"/>
<circle cx="457.6" cy="165.3" r="2.4"/>
<circle cx="462.8" cy="165.3" r="2.4"/>
<circle cx="440.6" cy="163.4" r="2.4"/>
<circle cx="424.3" cy="159.6" r="2.4"/>
<circle cx="428.8" cy="160.2" r="2.4"/>
<circle cx="427.5" cy="157.6" r="2.4"/>
<circle cx="443.4" cy="154.5" r="2.4"/>
<circle cx="435.8" cy="153.6" r="2.4"/>
<circle cx="421.9" cy="154.4" r="2.4"/>
<circle cx="447.6" cy="160.5" r="2.4"/>
<circle cx="438.8" cy="155.5" r="2.4"/>
<circle cx="439.1" cy="158.9" r="2.4"/>
<circle cx="431.3" cy="157.7" r="2.4"/>
<circle cx="442.7" cy="153.1" r="2.4"/>
<circle cx="426.4" cy="156.7" r="2.4"/>
<circle cx="424.9" cy="156.1" r="2.4"/>
<circle cx="436.4" cy="154.4" r="2.4"/>
<circle cx="435.0" cy="155.1" r="2.4"/>
<circle cx="436.3" cy="155.7" r="2.4"/>
<circle cx="438.3" cy="153.3" r="2.4"/>
<circle cx="439.1" cy="154.2" r="2.4"/>
<circle cx="446.9" cy="157.8" r="2.4"/>
<circle cx="433.7" cy="156.3" r="2.4"/>
<circle cx="437.8" cy="158.5" r="2.4"/>
<circle cx="441.5" cy="159.0" r="2.4"/>
<circle cx="434.1" cy="161.0" r="2.4"/>
<circle cx="443.6" cy="159.8" r="2.4"/>
<circle cx="432.0" cy="156.5" r="2.4"/>
<circle cx="436.3" cy="160.2" r="2.4"/>
<circle cx="459.7" cy="158.3" r="2.4"/>
<circle cx="457.2" cy="162.0" r="2.4"/>
<circle cx="454.3" cy="153.5" r="2.4"/>
<circle cx="464.9" cy="162.0" r="2.4"/>
<circle cx="465.0" cy="159.0" r="2.4"/>
<circle cx="465.5" cy="156.0" r="2.4"/>
<circle cx="461.4" cy="153.7" r="2.4"/>
<circle cx="449.2" cy="157.5" r="2.4"/>
<circle cx="459.1" cy="157.0" r="2.4"/>
<circle cx="447.4" cy="159.9" r="2.4"/>
<circle cx="459.7" cy="155.4" r="2.4"/>
<circle cx="454.0" cy="157.0" r="2.4"/>
<circle cx="452.1" cy="153.7" r="2.4"/>
<circle cx="469.7" cy="162.7" r="2.4"/>
<circle cx="463.3" cy="161.7" r="2.4"/>
<circle cx="457.0" cy="161.1" r="2.4"/>
<circle cx="451.8" cy="160.5" r="2.4"/>
<circle cx="460.7" cy="162.0" r="2.4"/>
<circle cx="448.6" cy="160.9" r="2.4"/>
<circle cx="449.2" cy="158.4" r="2.4"/>
<circle cx="470.7" cy="153.0" r="2.4"/>
<circle cx="452.3" cy="156.0" r="2.4"/>
<circle cx="454.4" cy="153.6" r="2.4"/>
<circle cx="469.3" cy="161.2" r="2.4"/>
<circle cx="456.3" cy="156.6" r="2.4"/>
<circle cx="461.2" cy="153.5" r="2.4"/>
<circle cx="446.8" cy="162.0" r="2.4"/>
<circle cx="454.0" cy="158.0" r="2.4"/>
<circle cx="470.3" cy="162.8" r="2.4"/>
<circle cx="458.3" cy="155.1" r="2.4"/>
<circle cx="453.7" cy="162.2" r="2.4"/>
<circle cx="469.3" cy="155.0" r="2.4"/>
<circle cx="467.8" cy="156.5" r="2.4"/>
<circle cx="458.3" cy="154.7" r="2.4"/>
<circle cx="468.9" cy="163.0" r="2.4"/>
<circle cx="451.3" cy="159.3" r="2.4"/>
</g>
<rect x="62.90" y="159.20" width="38.10" height="3" fill="#000"/>
<rect x="127.00" y="214.85" width="38.10" height="3" fill="#000"/>
<rect x="190.90" y="214.90" width="38.10" height="3" fill="#000"/>
<rect x="321.90" y="152.70" width="57.90" height="3" fill="#000"/>
<rect x="417.90" y="153.50" width="57.50" height="3" fill="#000"/>
<path d="M78.2 146.6L85.8 154.20000000000002M78.2 154.20000000000002L85.8 146.6" stroke="#f00" stroke-width="2" fill="none"/>
<path d="M142.6 203.39999999999998L150.20000000000002 211.0M142.6 211.0L150.20000000000002 203.39999999999998" stroke="#f00" stroke-width="2" fill="none"/>
<path d="M206.2 213.39999999999998L213.8 221.0M206.2 221.0L213.8 213.39999999999998" stroke="#f00" stroke-width="2" fill="none"/>
<path d="M347.0 144.54999999999998L354.6 152.15M347.0 152.15L354.6 144.54999999999998" stroke="#f00" stroke-width="2" fill="none"/>
<path d="M442.95 147.64999999999998L450.55 155.25M442.95 155.25L450.55 147.64999999999998" stroke="#f00" stroke-width="2" fill="none"/>
<g transform="translate(23.7,148.0) rotate(-90)"><text x="0.00" y="0.00" font-size="11" fill="#262626">log(E</text><text x="25.88" y="-5.80" font-size="8.5" fill="#262626">P</text><text x="25.68" y="5.20" font-size="8.5" fill="#262626">nl</text><text x="32.29" y="0.00" font-size="11" fill="#262626">/E</text><text x="42.89" y="-5.80" font-size="8.5" fill="#262626">P</text><text x="42.69" y="5.20" font-size="8.5" fill="#262626">lin</text><text x="51.19" y="0.00" font-size="11" fill="#262626">)</text></g>
<g transform="translate(268,148.2) rotate(-90)"><text x="0.00" y="0.00" font-size="11" fill="#262626">log(E</text><text x="25.88" y="-5.80" font-size="8.5" fill="#262626">S</text><text x="25.68" y="5.20" font-size="8.5" fill="#262626">nl</text><text x="32.29" y="0.00" font-size="11" fill="#262626">/E</text><text x="42.89" y="-5.80" font-size="8.5" fill="#262626">S</text><text x="42.69" y="5.20" font-size="8.5" fill="#262626">lin</text><text x="51.19" y="0.00" font-size="11" fill="#262626">)</text></g>
<text x="4.1" y="16.5" font-size="15" fill="#000">(a)</text>
<text x="252.4" y="16.5" font-size="15" fill="#000">(b)</text>
</svg>
</body></html>
